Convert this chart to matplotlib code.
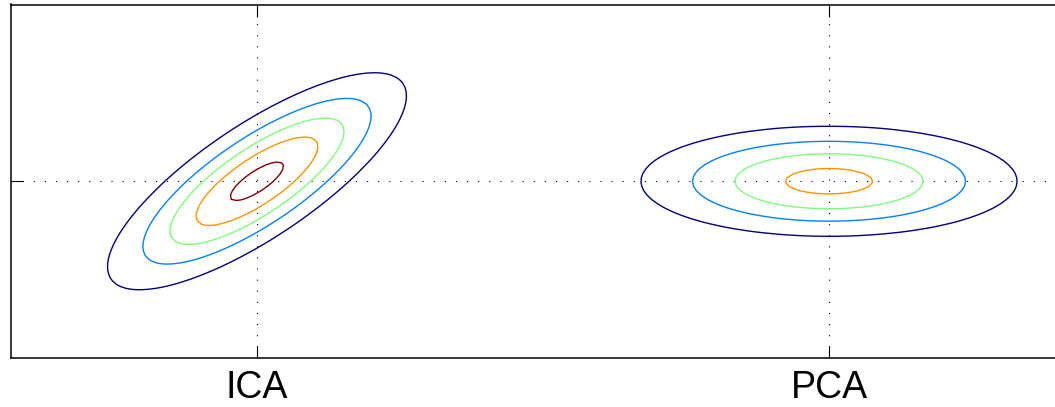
import numpy as np
import matplotlib
matplotlib.use("Agg")
import matplotlib.pyplot as plt

plt.rcParams['font.family'] = ['Liberation Sans', 'DejaVu Sans']

# two gaussian blobs: a tilted one (ICA) and an axis-aligned one (PCA)
names = ["ICA", "PCA"]
centerX = [-2.0, 2.0]
centerY = [0.0, 0.0]
sigmaX = [0.573, 0.768]
sigmaY = [0.416, 0.2245]
rho = [0.788, 0.0]
peak = [5.275, 4.33]
levels = [1, 2, 3, 4, 5]


def gaussian(X, Y, cx, cy, sx, sy, r, a):
    dx = (X - cx) / sx
    dy = (Y - cy) / sy
    q = (dx**2 - 2 * r * dx * dy + dy**2) / (1 - r**2)
    return a * np.exp(-0.5 * q)


xlim = (-3.72, 3.72)
ylim = (-1.236, 1.236)

xs = np.arange(xlim[0], xlim[1] + 0.01, 0.035)
ys = np.arange(ylim[0], ylim[1] + 0.01, 0.03)
X, Y = np.meshgrid(xs, ys)
Z = np.zeros_like(X)
for i in range(len(names)):
    Z += gaussian(X, Y, centerX[i], centerY[i], sigmaX[i], sigmaY[i], rho[i], peak[i])

fig = plt.figure(figsize=(10.55, 4.07), dpi=100)
ax = fig.add_axes([11 / 1055, 49 / 407, 1064 / 1055, 353.5 / 407])

ax.contour(X, Y, Z, levels=levels, cmap='jet', linewidths=1.0)

ax.set_xlim(xlim)
ax.set_ylim(ylim)
ax.set_xticks(centerX)
ax.set_xticklabels(names)
ax.set_yticks([0.0])
ax.set_yticklabels([])

ax.grid(True, color='k', linewidth=0.8, linestyle=(0, (1, 9)))
ax.tick_params(direction='in', length=8.5, width=0.8, top=True, right=True,
               labelsize=27, pad=9)
for s in ax.spines.values():
    s.set_linewidth(1.1)

fig.savefig('out.png', dpi=100)
plt.close(fig)
